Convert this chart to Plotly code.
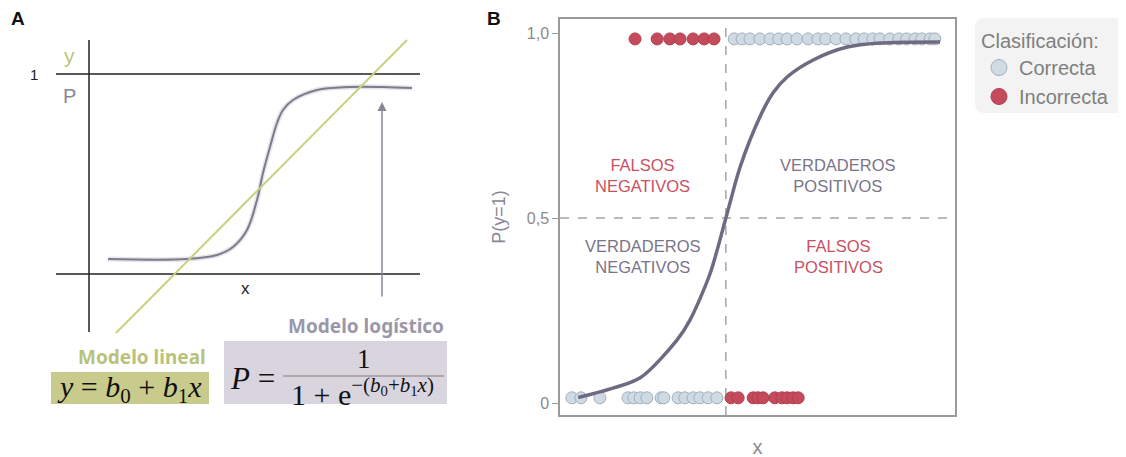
import plotly.graph_objects as go

W, H = 1126, 457
OFF = 8  # page body margin offset

# ---------------- Panel B data (x in arbitrary units 0-100) ----------------
threshold = 42.0
top_incorrect_x = [19.0, 24.6, 27.8, 30.4, 33.7, 36.5, 39.0]
top_correct_x = [44.1, 46.1, 48.1, 50.6, 53.2, 55.4, 57.5, 60.0, 62.8, 65.3, 67.3, 69.9,
                 72.4, 74.9, 77.0, 79.2, 81.0, 83.5, 85.8, 87.8, 89.9, 91.6, 93.7, 94.9]
bottom_correct_x = [3.0, 5.3, 10.1, 17.2, 18.7, 20.3, 22.0, 25.6, 26.3, 29.9, 31.6, 33.7,
                    35.4, 37.5, 39.7]
bottom_incorrect_x = [43.3, 45.1, 48.9, 50.1, 51.4, 54.4, 56.2, 57.5, 59.0, 60.3]
top_y = 0.984
bottom_y = 0.014
curve_x = [4.6, 10.1, 20.3, 29.6, 32.9, 38.0, 42.0, 45.6, 50.6, 53.9, 57.5, 64.1, 72.7, 81.0, 96.2]
curve_p = [0.015, 0.03, 0.068, 0.17, 0.224, 0.35, 0.50, 0.638, 0.773, 0.838, 0.881, 0.927,
           0.962, 0.973, 0.976]
y_tickvals = [0, 0.5, 1.0]
y_ticktext = ["0", "0,5", "1,0"]
quadrant_labels = ["FALSOS<br>NEGATIVOS", "VERDADEROS<br>POSITIVOS",
                   "VERDADEROS<br>NEGATIVOS", "FALSOS<br>POSITIVOS"]
quadrant_x = [21.0, 70.4, 21.0, 70.4]
quadrant_y = [0.616, 0.616, 0.395, 0.395]
quadrant_is_false = [True, False, False, True]

# ---------------- Panel A schematic data ----------------
a_axis_x = [0.0, 0.0]
a_axis_y = [-0.29, 1.17]
a_hline_x = [-0.165, 1.655]
a_lin_x = [0.135, 1.59]
a_lin_y = [-0.295, 1.17]
a_sig_x = [0.095, 0.49, 0.64, 0.72, 0.79, 0.84, 0.87, 0.905, 0.94, 0.97, 1.02, 1.14, 1.305, 1.47, 1.615]
a_sig_y = [0.075, 0.075, 0.095, 0.135, 0.22, 0.37, 0.505, 0.635, 0.755, 0.82, 0.87, 0.92, 0.935, 0.935, 0.93]
a_arrow_x = 1.465
a_arrow_y = [-0.12, 0.86]

RED = "#c44b5b"
RED_LINE = "#b13f4e"
BLUE = "#cfdae3"
BLUE_LINE = "#9fb0bf"
CURVE = "#6f6a82"
GREEN = "#c5d27e"
GRAY_TXT = "#8a8a8a"
PURPLE_TXT = "#7a7488"
RED_TXT = "#c9505f"


def px(x):
    return (x - OFF) / W


def py(y):
    return 1 - (y - OFF) / H


fig = go.Figure()

# ---- Panel A traces ----
AX = dict(xaxis="x2", yaxis="y2", showlegend=False, hoverinfo="skip")
fig.add_trace(go.Scatter(x=a_axis_x, y=a_axis_y, mode="lines", line=dict(color="#222", width=1.5), **AX))
for yy in [0, 1]:
    fig.add_trace(go.Scatter(x=a_hline_x, y=[yy, yy], mode="lines", line=dict(color="#222", width=1.5), **AX))
fig.add_trace(go.Scatter(x=a_sig_x, y=a_sig_y, mode="lines", line=dict(color="#e6e4ea", width=5, shape="spline"), **AX))
fig.add_trace(go.Scatter(x=a_sig_x, y=a_sig_y, mode="lines", line=dict(color="#7f7a8c", width=2, shape="spline"), **AX))
fig.add_trace(go.Scatter(x=a_lin_x, y=a_lin_y, mode="lines", line=dict(color=GREEN, width=2), **AX))

# ---- Panel B traces ----
fig.add_trace(go.Scatter(x=top_correct_x + bottom_correct_x,
                         y=[top_y] * len(top_correct_x) + [bottom_y] * len(bottom_correct_x),
                         mode="markers", showlegend=False, hoverinfo="skip",
                         marker=dict(size=12, color=BLUE, line=dict(color=BLUE_LINE, width=1))))
fig.add_trace(go.Scatter(x=top_incorrect_x + bottom_incorrect_x,
                         y=[top_y] * len(top_incorrect_x) + [bottom_y] * len(bottom_incorrect_x),
                         mode="markers", showlegend=False, hoverinfo="skip",
                         marker=dict(size=12, color=RED, line=dict(color=RED_LINE, width=1))))
fig.add_trace(go.Scatter(x=curve_x, y=curve_p, mode="lines", showlegend=False, hoverinfo="skip",
                         line=dict(color=CURVE, width=3.5, shape="spline", smoothing=0.8)))
# legend entries
fig.add_trace(go.Scatter(x=[None], y=[None], mode="markers", name="Correcta",
                         marker=dict(size=18, color=BLUE, line=dict(color=BLUE_LINE, width=1))))
fig.add_trace(go.Scatter(x=[None], y=[None], mode="markers", name="Incorrecta",
                         marker=dict(size=18, color=RED, line=dict(color=RED_LINE, width=1))))

shapes = []
shapes.append(dict(type="line", xref="x", yref="y domain", x0=threshold, x1=threshold, y0=0, y1=1,
                   line=dict(color="#777", width=1, dash="dash")))
shapes.append(dict(type="line", xref="x domain", yref="y", x0=0, x1=1, y0=0.5, y1=0.5,
                   line=dict(color="#777", width=1, dash="dash")))
# legend rounded box
r = 10
x0, x1, y0, y1 = 975, 1145, 18, 113
rx, ry = r / W, r / H
path = (f"M {px(x0)+rx},{py(y0)} L {px(x1)-rx},{py(y0)} Q {px(x1)},{py(y0)} {px(x1)},{py(y0)-ry} "
        f"L {px(x1)},{py(y1)+ry} Q {px(x1)},{py(y1)} {px(x1)-rx},{py(y1)} "
        f"L {px(x0)+rx},{py(y1)} Q {px(x0)},{py(y1)} {px(x0)},{py(y1)+ry} "
        f"L {px(x0)},{py(y0)-ry} Q {px(x0)},{py(y0)} {px(x0)+rx},{py(y0)} Z")
shapes.append(dict(type="path", xref="paper", yref="paper", path=path,
                   fillcolor="#f3f3f3", line=dict(width=0), layer="below"))
# formula boxes
shapes.append(dict(type="rect", xref="paper", yref="paper", x0=px(224), x1=px(447), y0=py(404), y1=py(341),
                   fillcolor="#d9d5de", line=dict(width=0), layer="below"))
shapes.append(dict(type="rect", xref="paper", yref="paper", x0=px(51), x1=px(209), y0=py(404), y1=py(372),
                   fillcolor="#c8cb8b", line=dict(width=0), layer="below"))
# fraction bar
shapes.append(dict(type="line", xref="paper", yref="paper", x0=px(283), x1=px(444), y0=py(376), y1=py(376),
                   line=dict(color="#8a7a78", width=1.2)))

ann = []


def add_text(x, y, text, size, color, family="Liberation Sans, Arial", xanchor="center", xref="paper", yref="paper"):
    if xref == "paper":
        x = px(x)
    if yref == "paper":
        y = py(y)
    ann.append(dict(x=x, y=y, xref=xref, yref=yref, text=text, showarrow=False,
                    xanchor=xanchor, yanchor="middle",
                    font=dict(family=family, size=size, color=color)))


for lbl, xx, yy, isf in zip(quadrant_labels, quadrant_x, quadrant_y, quadrant_is_false):
    add_text(xx, yy, lbl, 16.5, RED_TXT if isf else PURPLE_TXT, xref="x", yref="y")
# panel labels
add_text(18, 18, "<b>A</b>", 19, "#111")
add_text(494, 18, "<b>B</b>", 19, "#111")
# panel A labels
add_text(-0.275, 1.0, "1", 15, "#222", xref="x2", yref="y2")
add_text(-0.1, 1.095, "y", 21, "#bcc67c", xref="x2", yref="y2")
add_text(-0.1, 0.89, "P", 20, "#8a8696", xref="x2", yref="y2")
add_text(0.78, -0.07, "x", 17, "#222", xref="x2", yref="y2")
# arrow
ann.append(dict(x=a_arrow_x, y=a_arrow_y[1], ax=a_arrow_x, ay=a_arrow_y[0], xref="x2", yref="y2",
                axref="x2", ayref="y2", text="", showarrow=True, arrowhead=2, arrowsize=1.2,
                arrowwidth=1.5, arrowcolor="#8a8696"))
# model titles
add_text(446, 326, "<b>Modelo logístico</b>", 19, "#9b97a9", family="Noto Sans, Open Sans", xanchor="right")
add_text(208, 357, "<b>Modelo lineal</b>", 19, "#b9c27a", family="Noto Sans, Open Sans", xanchor="right")
SERIF = "Liberation Serif, DejaVu Serif, serif"
add_text(129, 389, "<i>y</i> = <i>b</i><sub>0</sub> + <i>b</i><sub>1</sub><i>x</i>", 30, "#111", family=SERIF)
add_text(252, 378, "<i>P</i> =", 31, "#111", family=SERIF)
add_text(364, 359, "1", 27, "#111", family=SERIF)
add_text(362, 392, "1 + e<sup>−(<i>b</i><sub>0</sub>+<i>b</i><sub>1</sub><i>x</i>)</sup>", 30, "#111", family=SERIF)

fig.update_layout(
    width=W, height=H, margin=dict(l=0, r=0, t=0, b=0),
    paper_bgcolor="white", plot_bgcolor="white",
    shapes=shapes, annotations=ann,
    font=dict(family="Liberation Sans, Arial", color=GRAY_TXT),
    xaxis=dict(domain=[px(560), px(955)], range=[0, 100], showticklabels=False, ticks="",
               showline=True, mirror=True, linecolor="#9a9a9a", linewidth=1.5,
               showgrid=False, zeroline=False,
               title=dict(text="x", font=dict(size=20, color=GRAY_TXT), standoff=24)),
    yaxis=dict(domain=[py(415), py(19)], range=[-12 / 370, 384 / 370],
               tickvals=y_tickvals, ticktext=y_ticktext, ticks="outside", ticklen=6,
               tickcolor="#9a9a9a", tickfont=dict(size=16, color=GRAY_TXT),
               showline=True, mirror=True, linecolor="#9a9a9a", linewidth=1.5,
               showgrid=False, zeroline=False,
               title=dict(text="P(y=1)", font=dict(size=18, color="#8a8796"), standoff=16)),
    xaxis2=dict(domain=[0, px(460)], range=[(OFF - 89) / 200, (460 - 89) / 200], visible=False, anchor="y2"),
    yaxis2=dict(domain=[0, 1], range=[(274 - (H + OFF)) / 200, (274 - OFF) / 200], visible=False, anchor="x2"),
    legend=dict(x=px(979), y=py(22), xanchor="left", yanchor="top", bgcolor="rgba(0,0,0,0)",
                title=dict(text="Clasificación:", font=dict(size=20, color="#7f7f7f")),
                font=dict(size=20, color="#7f7f7f"), itemsizing="trace", itemwidth=30),
)

fig.write_html("out.html")
